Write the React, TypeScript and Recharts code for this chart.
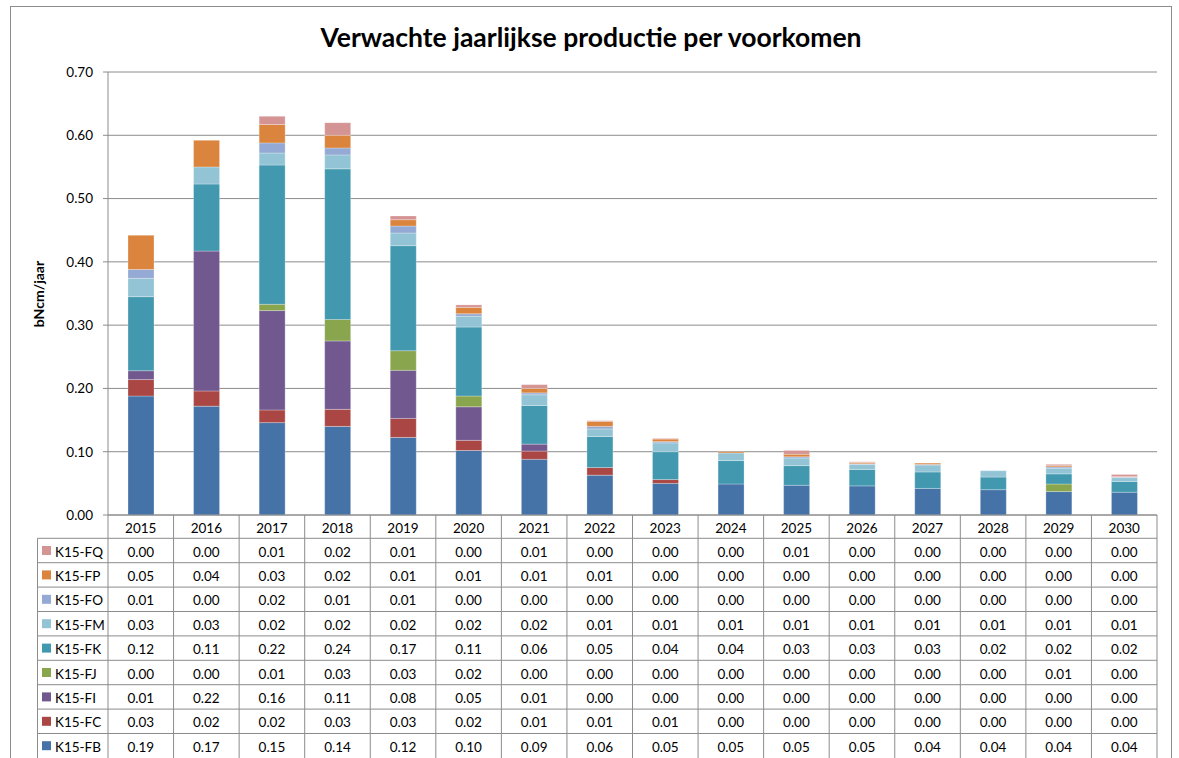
import React from 'react';
import { BarChart, Bar, XAxis, YAxis, CartesianGrid } from 'recharts';

const YEARS = ['2015', '2016', '2017', '2018', '2019', '2020', '2021', '2022', '2023', '2024', '2025', '2026', '2027', '2028', '2029', '2030'];

const SERIES_NAMES = ['K15-FB', 'K15-FC', 'K15-FI', 'K15-FJ', 'K15-FK', 'K15-FM', 'K15-FO', 'K15-FP', 'K15-FQ'];
const SERIES_KEYS = ['FB', 'FC', 'FI', 'FJ', 'FK', 'FM', 'FO', 'FP', 'FQ'];
const SERIES_COLORS = ['#4572A7', '#AA4643', '#71588F', '#89A54E', '#4198AF', '#93C4D5', '#94A9D3', '#DB843D', '#D59494'];

const FB = [0.188, 0.172, 0.146, 0.14, 0.1226, 0.102, 0.088, 0.063, 0.05, 0.049, 0.047, 0.046, 0.042, 0.04, 0.037, 0.036];
const FC = [0.026, 0.024, 0.02, 0.027, 0.03, 0.016, 0.013, 0.012, 0.006, 0, 0, 0, 0, 0, 0, 0];
const FI = [0.014, 0.221, 0.157, 0.108, 0.076, 0.053, 0.011, 0, 0, 0, 0, 0, 0, 0, 0, 0];
const FJ = [0, 0, 0.01, 0.034, 0.031, 0.017, 0, 0, 0, 0, 0, 0, 0, 0, 0.012, 0];
const FK = [0.117, 0.106, 0.22, 0.238, 0.166, 0.109, 0.061, 0.049, 0.044, 0.037, 0.031, 0.026, 0.026, 0.02, 0.016, 0.017];
const FM = [0.029, 0.027, 0.019, 0.022, 0.02, 0.017, 0.017, 0.012, 0.014, 0.012, 0.012, 0.008, 0.011, 0.01, 0.009, 0.006];
const FO = [0.014, 0, 0.016, 0.011, 0.011, 0.004, 0.003, 0.004, 0.002, 0, 0.002, 0.001, 0.001, 0, 0.002, 0.001];
const FP = [0.054, 0.042, 0.029, 0.02, 0.01, 0.01, 0.007, 0.008, 0.004, 0.002, 0.004, 0.002, 0.002, 0, 0.002, 0.001];
const FQ = [0, 0, 0.013, 0.02, 0.006, 0.004, 0.006, 0.001, 0.001, 0, 0.006, 0.001, 0, 0, 0.002, 0.003];

const SERIES_VALUES = [FB, FC, FI, FJ, FK, FM, FO, FP, FQ];

const Y_TICKS = [0, 0.1, 0.2, 0.3, 0.4, 0.5, 0.6, 0.7];

const TITLE = 'Verwachte jaarlijkse productie per voorkomen';
const Y_LABEL = 'bNcm/jaar';

const data = YEARS.map((year, i) => {
  const row: Record<string, any> = { year };
  SERIES_KEYS.forEach((k, s) => {
    row[k] = SERIES_VALUES[s][i];
  });
  return row;
});

// layout constants
const W = 1179;
const H = 758;
const PLOT_TOP = 72;
const PLOT_LEFT = 108;
const PLOT_RIGHT_MARGIN = 22;
const XAXIS_H = 243;
const TABLE_TOP = H - XAXIS_H; // 515
const ROWS_TOP = 538.3;
const ROW_H = 24.4;
const TABLE_BOTTOM = 760;
const LEGEND_LEFT = 37.5;
const LINE = '#8c8c8c';
const FONT = 'Lato, "Open Sans", sans-serif';
const TABLE_FS = 13.5;

const ROW_ORDER = [8, 7, 6, 5, 4, 3, 2, 1, 0];

function TableTick(props: any) {
  const { x, payload } = props;
  const idx: number = payload.index ?? props.index ?? YEARS.indexOf(payload.value);
  const half: number = payload.offset ?? 32.8;
  const left = x - half;
  const right = x + half;
  const els: any[] = [];
  els.push(
    <text key="yr" x={x} y={(TABLE_TOP + ROWS_TOP) / 2 + 1} textAnchor="middle" dominantBaseline="central" fontFamily={FONT} fontSize={TABLE_FS} fill="#000">
      {payload.value}
    </text>
  );
  els.push(<line key="vr" x1={right} x2={right} y1={TABLE_TOP} y2={TABLE_BOTTOM} stroke={LINE} strokeWidth={1} />);
  if (idx === 0) {
    els.push(<line key="vl" x1={left} x2={left} y1={TABLE_TOP} y2={TABLE_BOTTOM} stroke={LINE} strokeWidth={1} />);
    els.push(<line key="lgl" x1={LEGEND_LEFT} x2={LEGEND_LEFT} y1={ROWS_TOP} y2={TABLE_BOTTOM} stroke={LINE} strokeWidth={1} />);
  }
  ROW_ORDER.forEach((s, r) => {
    const y0 = ROWS_TOP + r * ROW_H;
    els.push(<line key={'h' + r} x1={left} x2={right} y1={y0} y2={y0} stroke={LINE} strokeWidth={1} />);
    els.push(
      <text key={'t' + r} x={x} y={y0 + ROW_H / 2 + 1} textAnchor="middle" dominantBaseline="central" fontFamily={FONT} fontSize={TABLE_FS} fill="#000">
        {SERIES_VALUES[s][idx].toFixed(2)}
      </text>
    );
    if (idx === 0) {
      els.push(<line key={'lh' + r} x1={LEGEND_LEFT} x2={left} y1={y0} y2={y0} stroke={LINE} strokeWidth={1} />);
      els.push(<rect key={'lr' + r} x={42} y={y0 + ROW_H / 2 - 4.5} width={9} height={9} fill={SERIES_COLORS[s]} />);
      els.push(
        <text key={'lt' + r} x={55} y={y0 + ROW_H / 2 + 1} textAnchor="start" dominantBaseline="central" fontFamily={FONT} fontSize={13.5} fill="#000">
          {SERIES_NAMES[s]}
        </text>
      );
    }
  });
  return <g>{els}</g>;
}

export default function App() {
  return (
    <div style={{ position: 'absolute', left: 0, top: 0, width: W, height: H, overflow: 'hidden', background: '#fff' }}>
      <svg width={W} height={H} style={{ position: 'absolute', left: 0, top: 0 }}>
        <rect x={10.5} y={6.5} width={1161} height={800} fill="#fff" stroke={LINE} strokeWidth={1} />
        <text x={591} y={47} textAnchor="middle" fontFamily={FONT} fontWeight="bold" fontSize={26.5} fill="#000">
          {TITLE}
        </text>
        <text x={44} y={294} transform="rotate(-90 44 294)" textAnchor="middle" fontFamily={FONT} fontWeight="bold" fontSize={14} fill="#000">
          {Y_LABEL}
        </text>
      </svg>
      <div style={{ position: 'absolute', left: 0, top: 0 }}>
        <BarChart
          width={W}
          height={H}
          data={data}
          margin={{ top: PLOT_TOP, right: PLOT_RIGHT_MARGIN, left: 0, bottom: 0 }}
          barSize={26}
        >
          <CartesianGrid vertical={false} stroke={LINE} strokeWidth={1} />
          <XAxis
            dataKey="year"
            height={XAXIS_H}
            interval={0}
            tickLine={false}
            axisLine={{ stroke: LINE }}
            tick={<TableTick />}
          />
          <YAxis
            width={PLOT_LEFT}
            domain={[0, 0.7]}
            ticks={Y_TICKS}
            tickFormatter={(v: number) => v.toFixed(2)}
            tick={{ fill: '#000', fontSize: 13.5, fontFamily: FONT }}
            tickSize={5}
            tickMargin={10}
            axisLine={{ stroke: LINE }}
            tickLine={{ stroke: LINE }}
            allowDataOverflow
          />
          {SERIES_KEYS.map((k, s) => (
            <Bar
              key={k}
              dataKey={k}
              name={SERIES_NAMES[s]}
              stackId="a"
              fill={SERIES_COLORS[s]}
              stroke="#ffffff"
              strokeOpacity={0.35}
              strokeWidth={0.8}
              isAnimationActive={false}
            />
          ))}
        </BarChart>
      </div>
    </div>
  );
}
